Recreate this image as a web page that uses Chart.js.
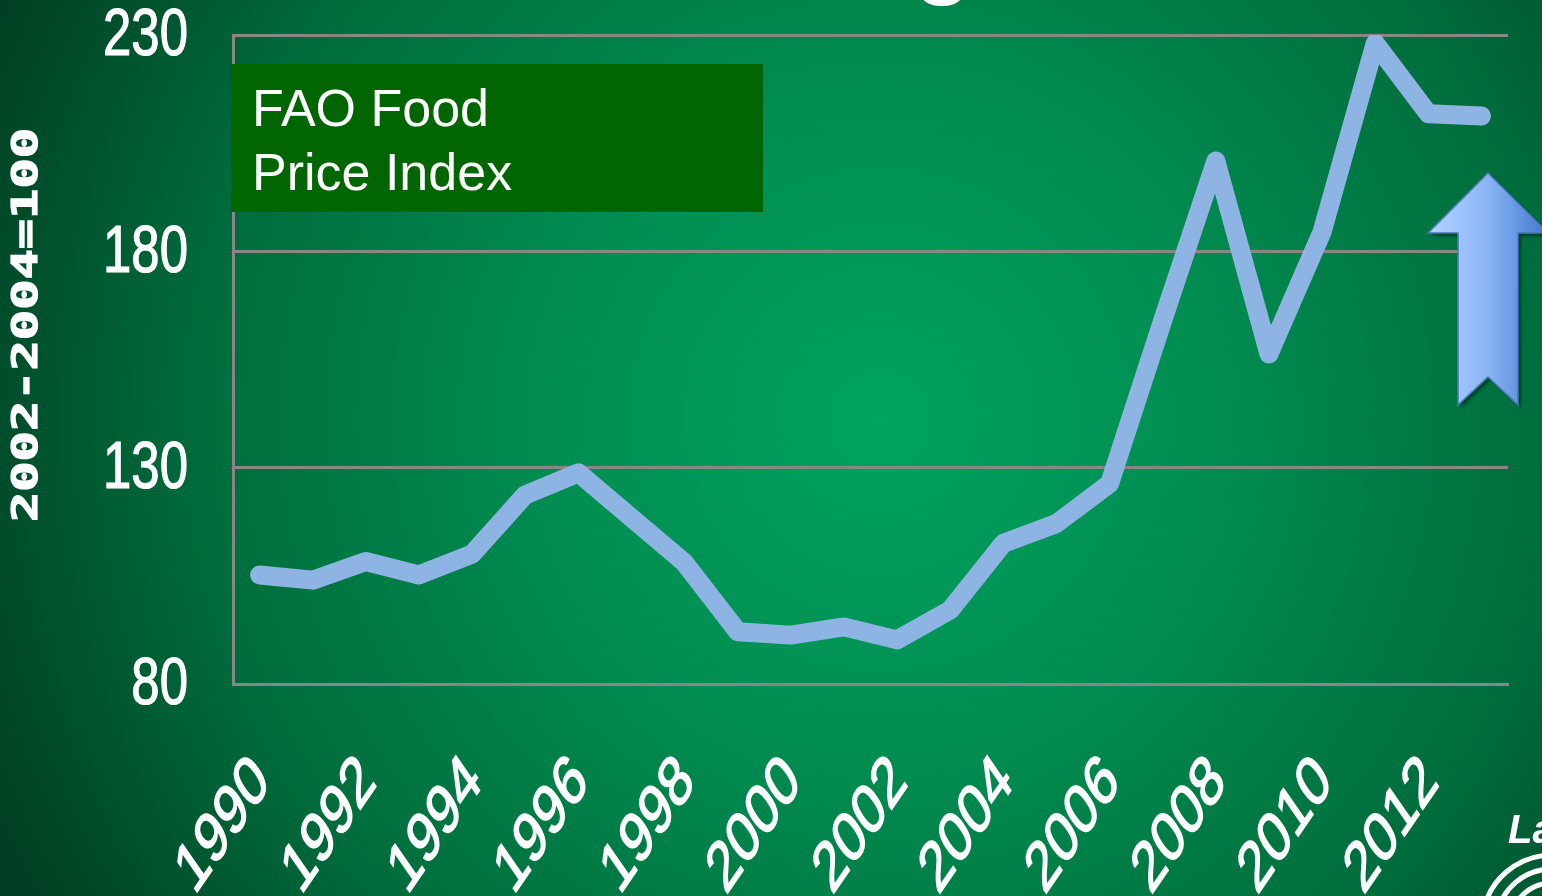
<!DOCTYPE html>
<html>
<head>
<meta charset="utf-8">
<title>FAO Food Price Index</title>
<script src="https://cdn.jsdelivr.net/npm/chart.js@4.4.1/dist/chart.umd.min.js"></script>
<style>
  html, body { margin: 0; padding: 0; background: #00542f; }
  #wrap { width: 1542px; height: 896px; position: relative; }
</style>
</head>
<body>
<div id="wrap"><canvas id="chart"></canvas></div>
<script>
/* ---- data ---- */
const years = ['1990','1991','1992','1993','1994','1995','1996','1997','1998','1999','2000','2001',
               '2002','2003','2004','2005','2006','2007','2008','2009','2010','2011','2012','2013'];
const foodIndex = [105.2, 104.0, 108.3, 105.2, 110.0, 123.7, 128.8, 118.4, 108.0, 92.1, 91.3, 93.2,
                   90.2, 97.1, 112.5, 117.1, 126.3, 164.0, 200.9, 156.3, 184.5, 228.1, 211.8, 211.3];
const yTicks = [80, 130, 180, 230];
const yTitle = '2002-2004=100';
const boxLines = ['FAO Food', 'Price Index'];

/* ---- background, stretched axis labels, label box, arrow ---- */
// the slide image was stretched vertically, so the labels are drawn the same way
const STRETCH = 1.45;

const slideDecor = {
  id: 'slideDecor',
  beforeDraw(chart) {
    const { ctx, width, height } = chart;
    const g = ctx.createRadialGradient(880, 420, 0, 880, 420, 980);
    g.addColorStop(0, '#00a35f');
    g.addColorStop(0.35, '#008c50');
    g.addColorStop(0.7, '#006b3c');
    g.addColorStop(1, '#003d22');
    ctx.save();
    ctx.fillStyle = g;
    ctx.fillRect(0, 0, width, height);
    ctx.restore();
  },
  afterDraw(chart) {
    const { ctx, chartArea: a } = chart;
    const ys = chart.scales.y, xs = chart.scales.x;
    ctx.save();
    ctx.fillStyle = '#ffffff';
    ctx.strokeStyle = '#ffffff';
    ctx.lineWidth = 1.2;

    // y tick labels: narrow, tall digits
    ctx.font = '67px "Liberation Sans", Arial, sans-serif';
    ctx.textAlign = 'right';
    ctx.textBaseline = 'middle';
    ys.ticks.forEach(t => {
      ctx.save();
      ctx.translate(a.left - 45, ys.getPixelForValue(t.value) + 2);
      ctx.scale(0.76, 1);
      ctx.fillText(String(t.value), 0, 0);
      ctx.strokeText(String(t.value), 0, 0);
      ctx.restore();
    });

    // x tick labels: every second year, 45 degrees then stretched
    ctx.font = '49px "Liberation Sans", Arial, sans-serif';
    ctx.textAlign = 'right';
    ctx.textBaseline = 'alphabetic';
    years.forEach((yr, i) => {
      if (Number(yr) % 2 !== 0) return;
      ctx.save();
      ctx.translate(xs.getPixelForValue(i) + 12, a.bottom + 100);
      ctx.scale(1, STRETCH);
      ctx.rotate(-Math.PI / 4);
      ctx.fillText(yr, 0, 0);
      ctx.strokeText(yr, 0, 0);
      ctx.restore();
    });

    // label box
    ctx.textAlign = 'left';
    ctx.fillStyle = '#016601';
    ctx.fillRect(a.left - 2, a.top + 29, 532, 148);
    ctx.fillStyle = '#ffffff';
    ctx.font = '52px "Liberation Sans", Arial, sans-serif';
    ctx.fillText(boxLines[0], a.left + 19, a.top + 91);
    ctx.fillText(boxLines[1], a.left + 19, a.top + 155);

    // vertical axis title, stretched along its length
    ctx.save();
    ctx.translate(28, 325);
    ctx.rotate(-Math.PI / 2);
    ctx.font = 'bold 36px "DejaVu Sans Mono", monospace';
    const w = ctx.measureText(yTitle).width;
    ctx.scale(394 / w, 1);
    ctx.textAlign = 'center';
    ctx.textBaseline = 'middle';
    ctx.fillText(yTitle, 0, 0);
    ctx.strokeText(yTitle, 0, 0);
    ctx.restore();

    // up arrow
    const cx = a.right - 20, tip = a.top + 138;
    ctx.save();
    ctx.beginPath();
    ctx.moveTo(cx, tip);
    ctx.lineTo(cx + 60, tip + 60);
    ctx.lineTo(cx + 30, tip + 60);
    ctx.lineTo(cx + 30, tip + 232);
    ctx.lineTo(cx, tip + 204);
    ctx.lineTo(cx - 30, tip + 232);
    ctx.lineTo(cx - 30, tip + 60);
    ctx.lineTo(cx - 60, tip + 60);
    ctx.closePath();
    const ag = ctx.createLinearGradient(cx - 60, 0, cx + 60, 0);
    ag.addColorStop(0, '#b4d4ff');
    ag.addColorStop(0.5, '#8ab4f4');
    ag.addColorStop(1, '#3f78cf');
    ctx.shadowColor = 'rgba(0,0,0,0.4)';
    ctx.shadowOffsetX = 3;
    ctx.shadowOffsetY = 3;
    ctx.shadowBlur = 3;
    ctx.fillStyle = ag;
    ctx.fill();
    ctx.shadowColor = 'transparent';
    ctx.strokeStyle = '#4a76b8';
    ctx.lineWidth = 1.5;
    ctx.stroke();
    ctx.restore();

    // cut-off title letter at the top edge
    ctx.fillStyle = '#ffffff';
    ctx.strokeStyle = '#ffffff';
    ctx.font = 'bold 96px "Liberation Sans", Arial, sans-serif';
    ctx.textAlign = 'center';
    ctx.fillText('g', 943, -14);

    // logo corner
    ctx.textAlign = 'left';
    ctx.font = 'italic bold 40px "Liberation Sans", Arial, sans-serif';
    ctx.fillText('La', 1508, 843);
    ctx.lineWidth = 5;
    [42, 56, 70].forEach(r => {
      ctx.beginPath();
      ctx.arc(1552, 925, r, Math.PI * 1.05, Math.PI * 1.5);
      ctx.stroke();
    });
    ctx.restore();
  }
};

// keep the plot box where the original has it
function noOverhang(s) {
  s.paddingLeft = 0; s.paddingRight = 0; s.paddingTop = 0; s.paddingBottom = 0;
}

const ctx = document.getElementById('chart').getContext('2d');
new Chart(ctx, {
  type: 'line',
  data: {
    labels: years,
    datasets: [{
      data: foodIndex,
      borderColor: '#8eb4e3',
      borderWidth: 19,
      borderJoinStyle: 'round',
      borderCapStyle: 'round',
      pointRadius: 0,
      tension: 0,
      fill: false
    }]
  },
  options: {
    responsive: true,
    maintainAspectRatio: false,
    animation: false,
    layout: { padding: { top: 35, right: 34, left: 0, bottom: 0 } },
    plugins: { legend: { display: false }, tooltip: { enabled: false } },
    scales: {
      x: {
        type: 'category',
        offset: true,
        grid: { display: false, drawTicks: false },
        border: { display: true, color: '#878787', width: 3 },
        afterFit: s => { s.height = 212; noOverhang(s); },
        ticks: { display: false }
      },
      y: {
        min: 80,
        max: 230,
        afterFit: s => { s.width = 233; noOverhang(s); },
        afterBuildTicks: s => { s.ticks = yTicks.map(v => ({ value: v })); },
        grid: { color: '#878787', lineWidth: 3, drawTicks: false },
        border: { display: true, color: '#878787', width: 3 },
        ticks: { display: false }
      }
    }
  },
  plugins: [slideDecor]
});
</script>
</body>
</html>
